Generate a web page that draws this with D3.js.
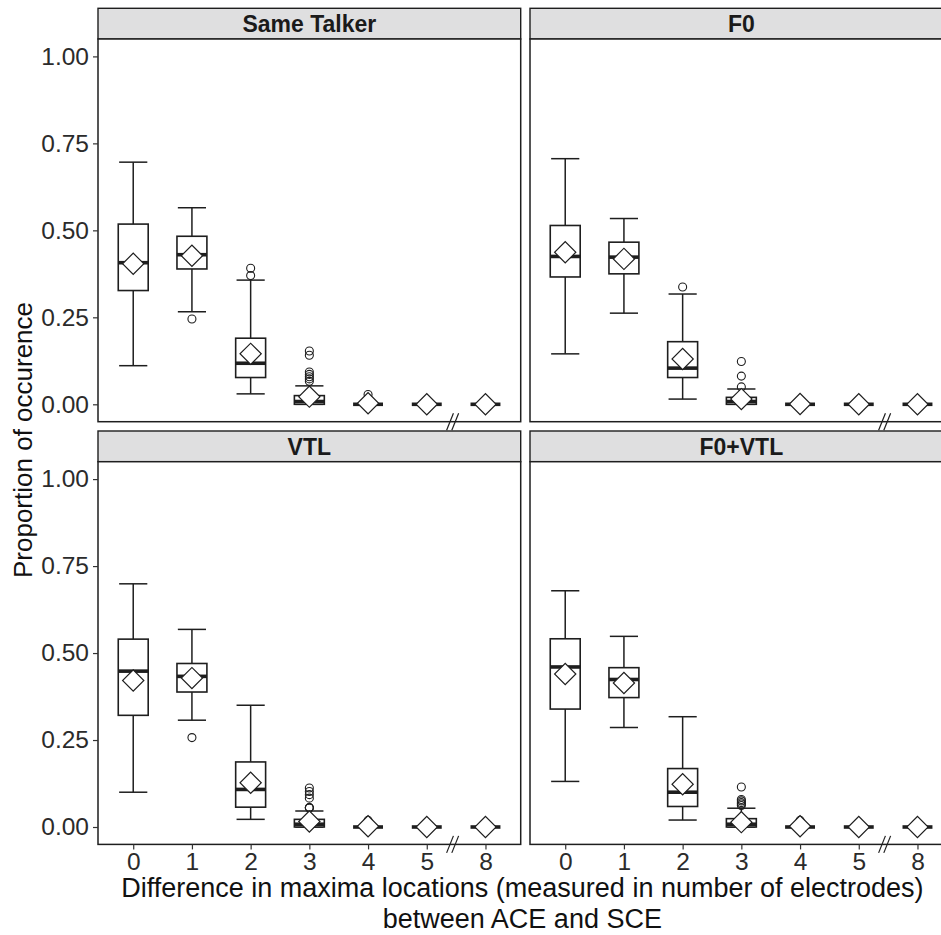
<!DOCTYPE html>
<html><head><meta charset="utf-8">
<script src="https://cdn.jsdelivr.net/npm/d3@7"></script>
<style>body{margin:0;background:#fff} svg{display:block}</style>
</head><body>
<script>
// ---- data ----
const panelNames = ["Same Talker", "F0", "VTL", "F0+VTL"];
const categories = ["0", "1", "2", "3", "4", "5", "8"];
const yTicks = [0, 0.25, 0.5, 0.75, 1.0];

// rows = panels (Same Talker, F0, VTL, F0+VTL), columns = categories
const whiskerLow = [
  [0.111, 0.266, 0.030, 0, 0, 0, 0],
  [0.145, 0.262, 0.015, 0, 0, 0, 0],
  [0.100, 0.307, 0.022, 0, 0, 0, 0],
  [0.131, 0.286, 0.020, 0, 0, 0, 0]
];
const quartile1 = [
  [0.327, 0.389, 0.077, 0, 0, 0, 0],
  [0.366, 0.375, 0.077, 0, 0, 0, 0],
  [0.321, 0.388, 0.057, 0, 0, 0, 0],
  [0.339, 0.372, 0.059, 0, 0, 0, 0]
];
const medians = [
  [0.407, 0.430, 0.118, 0.008, 0, 0, 0],
  [0.425, 0.423, 0.104, 0.008, 0, 0, 0],
  [0.448, 0.433, 0.108, 0.008, 0, 0, 0],
  [0.460, 0.424, 0.100, 0.008, 0, 0, 0]
];
const quartile3 = [
  [0.518, 0.483, 0.190, 0.025, 0, 0, 0],
  [0.514, 0.466, 0.180, 0.020, 0, 0, 0],
  [0.540, 0.470, 0.187, 0.022, 0, 0, 0],
  [0.541, 0.458, 0.168, 0.024, 0, 0, 0]
];
const whiskerHigh = [
  [0.696, 0.565, 0.357, 0.053, 0, 0, 0],
  [0.706, 0.534, 0.317, 0.044, 0, 0, 0],
  [0.699, 0.568, 0.350, 0.046, 0, 0, 0],
  [0.679, 0.548, 0.317, 0.054, 0, 0, 0]
];
const means = [
  [0.404, 0.427, 0.145, 0.022, 0.003, 0, 0],
  [0.437, 0.418, 0.130, 0.015, 0.001, 0, 0],
  [0.421, 0.428, 0.127, 0.016, 0.002, 0, 0],
  [0.440, 0.414, 0.123, 0.014, 0.002, 0, 0]
];
const outliers = [
  [[], [0.245], [0.370, 0.391], [0.066, 0.073, 0.079, 0.086, 0.093, 0.141, 0.153], [0.028], [], []],
  [[], [], [0.337], [0.050, 0.081, 0.123], [], [], []],
  [[], [0.257], [], [0.055, 0.055, 0.056, 0.083, 0.093, 0.102, 0.112], [0.019], [], []],
  [[], [], [], [0.062, 0.066, 0.070, 0.075, 0.079, 0.115], [0.019], [], []]
];
const xTitleLines = ["Difference in maxima locations (measured in number of electrodes)", "between ACE and SCE"];
const yTitle = "Proportion of occurence";

// ---- layout ----
const W = 941, H = 935;
const colX = [98, 530];
const pw = 422.7;
const stripTops = [8.3, 431];
const stripH = 30.7;
const ph = 382.7;
const ink = "#1e1e1e";
const font = "'Liberation Sans', Arial, Helvetica, sans-serif";

const svg = d3.select("body").append("svg").attr("width", W).attr("height", H)
  .style("font-family", font);

const x = d3.scalePoint().domain(categories).range([0, pw]).padding(0.6);
const y = d3.scaleLinear().domain([-0.05, 1.05]).range([ph, 0]);
const step = x.step();
const boxW = step * 0.51, capW = step * 0.48;
const diamond = d3.symbol().type(d3.symbolSquare).size(225);

panelNames.forEach((name, p) => {
  const r = Math.floor(p / 2), c = p % 2;
  const g = svg.append("g").attr("transform", `translate(${colX[c]},${stripTops[r] + stripH})`);

  // strip
  g.append("rect").attr("x", 0).attr("y", -stripH).attr("width", pw).attr("height", stripH)
    .attr("fill", "#dfdfe0").attr("stroke", ink).attr("stroke-width", 1.4);
  g.append("text").attr("x", pw / 2).attr("y", -stripH / 2).attr("dy", "0.36em")
    .attr("text-anchor", "middle").attr("font-size", 23).attr("font-weight", "bold")
    .attr("fill", "#1a1a1a").text(name);

  // panel background
  g.append("rect").attr("width", pw).attr("height", ph).attr("fill", "#fff");

  const data = categories.map((cat, i) => ({
    cat, lo: whiskerLow[p][i], q1: quartile1[p][i], med: medians[p][i],
    q3: quartile3[p][i], hi: whiskerHigh[p][i], mean: means[p][i], out: outliers[p][i]
  }));

  const bx = g.selectAll("g.box").data(data).join("g").attr("class", "box")
    .attr("transform", d => `translate(${x(d.cat)},0)`);

  bx.append("line").attr("y1", d => y(d.lo)).attr("y2", d => y(d.hi))
    .attr("stroke", ink).attr("stroke-width", 1.5);
  bx.append("line").attr("x1", -capW / 2).attr("x2", capW / 2)
    .attr("y1", d => y(d.hi)).attr("y2", d => y(d.hi)).attr("stroke", ink).attr("stroke-width", 1.5);
  bx.append("line").attr("x1", -capW / 2).attr("x2", capW / 2)
    .attr("y1", d => y(d.lo)).attr("y2", d => y(d.lo)).attr("stroke", ink).attr("stroke-width", 1.5);
  bx.append("rect").attr("x", -boxW / 2).attr("width", boxW)
    .attr("y", d => y(d.q3)).attr("height", d => y(d.q1) - y(d.q3))
    .attr("fill", "#fff").attr("stroke", ink).attr("stroke-width", 1.6);
  bx.append("line").attr("x1", -boxW / 2).attr("x2", boxW / 2)
    .attr("y1", d => y(d.med)).attr("y2", d => y(d.med)).attr("stroke", ink).attr("stroke-width", 3.6);
  bx.selectAll("circle").data(d => d.out).join("circle")
    .attr("cx", 0).attr("cy", v => y(v)).attr("r", 4)
    .attr("fill", "none").attr("stroke", ink).attr("stroke-width", 1.1);
  bx.append("path").attr("d", diamond)
    .attr("transform", d => `translate(0,${y(d.mean)}) rotate(45)`)
    .attr("fill", "#fff").attr("stroke", ink).attr("stroke-width", 1.2);

  // panel border
  g.append("rect").attr("width", pw).attr("height", ph).attr("fill", "none")
    .attr("stroke", ink).attr("stroke-width", 1.5);

  // axis break marks between 5 and 8
  const bxm = (x("5") + x("8")) / 2 - 3.5;
  [-2.6, 2.6].forEach(off => {
    g.append("line").attr("x1", bxm + off - 3.4).attr("x2", bxm + off + 3.4)
      .attr("y1", ph + 8.5).attr("y2", ph - 8.5).attr("stroke", ink).attr("stroke-width", 1.2);
  });

  // axes
  if (c === 0) {
    const ay = g.append("g").call(d3.axisLeft(y).tickValues(yTicks).tickFormat(d3.format(".2f")).tickSize(5).tickPadding(4));
    ay.select(".domain").remove();
    ay.selectAll("line").attr("stroke", "#333").attr("stroke-width", 1.2);
    ay.selectAll("text").attr("font-size", 24.5).attr("fill", "#2b2b2b").attr("font-family", font);
  }
  if (r === 1) {
    const ax = g.append("g").attr("transform", `translate(0,${ph})`)
      .call(d3.axisBottom(x).tickSize(5).tickPadding(3));
    ax.select(".domain").remove();
    ax.selectAll("line").attr("stroke", "#333").attr("stroke-width", 1.2);
    ax.selectAll("text").attr("font-size", 24.5).attr("fill", "#2b2b2b").attr("font-family", font);
  }
});

// axis titles
const xc = (colX[0] + colX[1] + pw) / 2;
svg.append("text").attr("x", xc - 3).attr("y", 897).attr("text-anchor", "middle")
  .attr("font-size", 27).attr("fill", "#111").text(xTitleLines[0]);
svg.append("text").attr("x", xc - 3).attr("y", 928).attr("text-anchor", "middle")
  .attr("font-size", 27).attr("fill", "#111").text(xTitleLines[1]);
svg.append("text").attr("transform", "translate(32,440) rotate(-90)").attr("text-anchor", "middle")
  .attr("font-size", 26).attr("fill", "#111").text(yTitle);
</script>
</body></html>
